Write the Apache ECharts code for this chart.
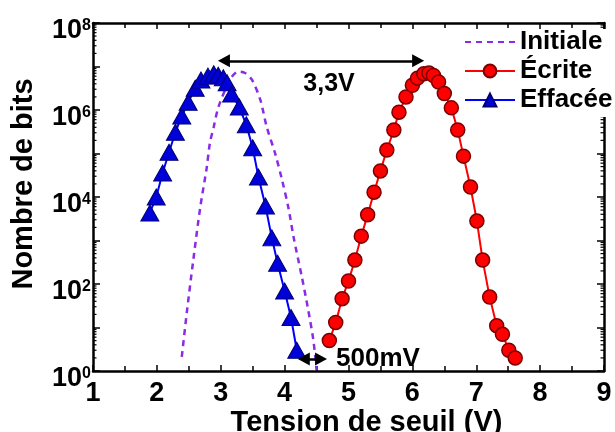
<!DOCTYPE html>
<html>
<head>
<meta charset="utf-8">
<script src="https://cdn.jsdelivr.net/npm/echarts@6/dist/echarts.min.js"></script>
<style>
html,body{margin:0;padding:0;background:#fff;}
#main{width:615px;height:432px;}
</style>
</head>
<body>
<div id="main"></div>
<script>
// ---- data ----
var seriesNames = ['Initiale', 'Écrite', 'Effacée'];

var initialeX = [2.39, 2.47, 2.57, 2.68, 2.78, 2.83, 2.89, 2.96, 3.10, 3.17, 3.27, 3.38, 3.49, 3.62, 3.72, 3.85, 3.96, 4.06, 4.14, 4.27, 4.37, 4.45, 4.50];
var initialeY = [2.1, 23, 355, 5900, 46800, 174000, 407000, 1.12e6, 3.7e6, 5.75e6, 7.6e6, 7.1e6, 4.9e6, 1.7e6, 407000, 102000, 24500, 5600, 1200, 145, 25, 5.1, 1.05];

var ecriteX = [4.70, 4.80, 4.90, 5.00, 5.10, 5.20, 5.30, 5.40, 5.50, 5.60, 5.71, 5.79, 5.90, 6.00, 6.08, 6.18, 6.26, 6.33, 6.41, 6.50, 6.61, 6.71, 6.80, 6.91, 7.01, 7.10, 7.21, 7.32, 7.41, 7.51, 7.61];
var ecriteY = [5, 13, 46, 117, 355, 1260, 3900, 12900, 39800, 120000, 347000, 891000, 2.0e6, 3.7e6, 5.4e6, 6.8e6, 7.1e6, 6.2e6, 4.4e6, 2.4e6, 1.12e6, 347000, 87000, 17000, 2800, 355, 50, 11, 7, 3, 2];

var effaceeX = [1.89, 1.99, 2.09, 2.19, 2.29, 2.39, 2.49, 2.60, 2.69, 2.80, 2.89, 2.96, 3.04, 3.10, 3.17, 3.29, 3.40, 3.50, 3.59, 3.70, 3.80, 3.89, 4.00, 4.10, 4.19];
var effaceeY = [4300, 10000, 35500, 107000, 309000, 724000, 1.51e6, 3.16e6, 4.9e6, 6.0e6, 6.8e6, 6.3e6, 5.5e6, 4.2e6, 2.34e6, 1.17e6, 457000, 135000, 28800, 6200, 1150, 300, 69, 17, 3];

var xTicks = [1, 2, 3, 4, 5, 6, 7, 8, 9];
var yMin = 1, yMax = 1e8;

// annotations (data coordinates)
var gapArrow = [[3.05, 1.35e7], [6.09, 1.35e7]];
var gapLabel = '3,3V';
var marginArrow = [[4.30, 1.89], [4.57, 1.89]];
var marginLabel = '500mV';

// ---- chart ----
function zip(xs, ys) { return xs.map(function (x, i) { return [x, ys[i]]; }); }

var FONT = '"Liberation Sans", Arial, sans-serif';
var chart = echarts.init(document.getElementById('main'), null, {renderer: 'canvas'});

var axisLine = {show: true, lineStyle: {color: '#000', width: 2.5}};

function arrowLine(pts, label, pos, dist, offset, fs) {
  return {
    silent: true,
    symbol: ['triangle', 'triangle'],
    symbolSize: [13, 12],
    lineStyle: {color: '#000', width: 2.5, type: 'solid'},
    itemStyle: {color: '#000'},
    label: {show: true, formatter: label, position: pos, distance: dist, offset: offset,
            color: '#000', fontFamily: FONT, fontWeight: 'bold', fontSize: fs},
    emphasis: {disabled: true},
    data: [[{coord: pts[0]}, {coord: pts[1]}]]
  };
}

var option = {
  animation: false,
  backgroundColor: '#fff',
  grid: {left: 93, right: 11, top: 23, bottom: 61, containLabel: false, outerBoundsMode: 'none'},
  legend: {
    orient: 'vertical', left: 464, top: 29,
    itemWidth: 50, itemHeight: 16, itemGap: 3,
    padding: [0, 12, 4, 0],
    backgroundColor: '#fff',
    textStyle: {fontFamily: FONT, fontWeight: 'bold', fontSize: 26, color: '#000'},
    data: [
      {name: seriesNames[0], itemStyle: {opacity: 0}},
      {name: seriesNames[1]},
      {name: seriesNames[2]}
    ]
  },
  xAxis: [{
    type: 'value', min: xTicks[0], max: xTicks[xTicks.length - 1], interval: 1,
    axisLine: axisLine,
    axisTick: {show: true, inside: true, length: 6, lineStyle: {color: '#000', width: 1.5}},
    minorTick: {show: true, splitNumber: 2, length: 5, lineStyle: {color: '#000', width: 1.5}},
    splitLine: {show: false},
    axisLabel: {margin: 9, color: '#000', fontFamily: FONT, fontWeight: 'bold', fontSize: 27},
    name: 'Tension de seuil (V)', nameLocation: 'middle', nameGap: 37, nameMoveOverlap: false,
    nameTextStyle: {color: '#000', fontFamily: FONT, fontWeight: 'bold', fontSize: 29, padding: [0, 0, 0, 36]}
  }, {
    type: 'value', position: 'top', min: xTicks[0], max: xTicks[xTicks.length - 1], interval: 1,
    axisLine: axisLine,
    axisTick: {show: true, inside: true, length: 6, lineStyle: {color: '#000', width: 1.5}},
    minorTick: {show: true, splitNumber: 2, length: 5, lineStyle: {color: '#000', width: 1.5}},
    splitLine: {show: false},
    axisLabel: {show: false}
  }],
  yAxis: [{
    type: 'log', logBase: 10, min: yMin, max: yMax, interval: 1,
    axisLine: axisLine,
    axisTick: {show: true, inside: true, length: 7, lineStyle: {color: '#000', width: 1.5}},
    splitLine: {show: false},
    axisLabel: {
      margin: 2,
      padding: [16, 0, 0, 0],
      formatter: function (v) {
        var e = Math.round(Math.log10(v));
        return e % 2 === 0 ? '{b|10}{s|' + e + '}' : '';
      },
      rich: {
        b: {fontFamily: FONT, fontWeight: 'bold', fontSize: 27, color: '#000', lineHeight: 27, verticalAlign: 'bottom', padding: [10, 0, 0, 0]},
        s: {fontFamily: FONT, fontWeight: 'bold', fontSize: 16, color: '#000', lineHeight: 16, verticalAlign: 'top'}
      }
    },
    name: 'Nombre de bits', nameLocation: 'middle', nameGap: 55, nameRotate: 90,
    nameTextStyle: {color: '#000', fontFamily: FONT, fontWeight: 'bold', fontSize: 29, padding: [0, 0, 0, 26]}
  }, {
    type: 'log', logBase: 10, min: yMin, max: yMax, interval: 1, position: 'right',
    axisLine: axisLine,
    axisTick: {show: true, inside: true, length: 7, lineStyle: {color: '#000', width: 1.5}},
    splitLine: {show: false},
    axisLabel: {show: false}
  }],
  series: [{
    name: seriesNames[0], type: 'line', xAxisIndex: 0, yAxisIndex: 0,
    data: zip(initialeX, initialeY),
    smooth: 0.3, showSymbol: false, symbol: 'none',
    lineStyle: {color: '#8a2be8', width: 2.5, type: [6, 5]},
    itemStyle: {color: '#8a2be8'},
    z: 2
  }, {
    name: seriesNames[1], type: 'line', xAxisIndex: 0, yAxisIndex: 0,
    data: zip(ecriteX, ecriteY),
    symbol: 'circle', symbolSize: 14, showSymbol: true,
    lineStyle: {color: '#ff0000', width: 2},
    itemStyle: {color: '#ff0000', borderColor: '#7a0000', borderWidth: 1.5},
    markLine: arrowLine(gapArrow, gapLabel, 'insideMiddleBottom', 8, [8, 3], 25),
    z: 3
  }, {
    name: seriesNames[2], type: 'line', xAxisIndex: 0, yAxisIndex: 0,
    data: zip(effaceeX, effaceeY),
    symbol: 'triangle', symbolSize: [18, 16], showSymbol: true,
    lineStyle: {color: '#0000ff', width: 2},
    itemStyle: {color: '#0000d8', borderColor: '#000070', borderWidth: 1},
    markLine: arrowLine(marginArrow, marginLabel, 'end', 15, [0, 0], 26),
    z: 4
  }]
};

chart.setOption(option);

// log minor ticks (2..9 within each decade) on left and right axes
var xl = chart.convertToPixel({xAxisIndex: 0}, xTicks[0]);
var xr = chart.convertToPixel({xAxisIndex: 0}, xTicks[xTicks.length - 1]);
var minorEls = [];
for (var k = 0; k < 8; k++) {
  for (var m = 2; m <= 9; m++) {
    var y = chart.convertToPixel({yAxisIndex: 0}, m * Math.pow(10, k));
    minorEls.push({type: 'line', shape: {x1: xl, y1: y, x2: xl + 3.5, y2: y}, style: {stroke: '#000', lineWidth: 1.2}, silent: true, z: 1});
    minorEls.push({type: 'line', shape: {x1: xr - 3.5, y1: y, x2: xr, y2: y}, style: {stroke: '#000', lineWidth: 1.2}, silent: true, z: 1});
  }
}
chart.setOption({graphic: minorEls});
</script>
</body>
</html>
